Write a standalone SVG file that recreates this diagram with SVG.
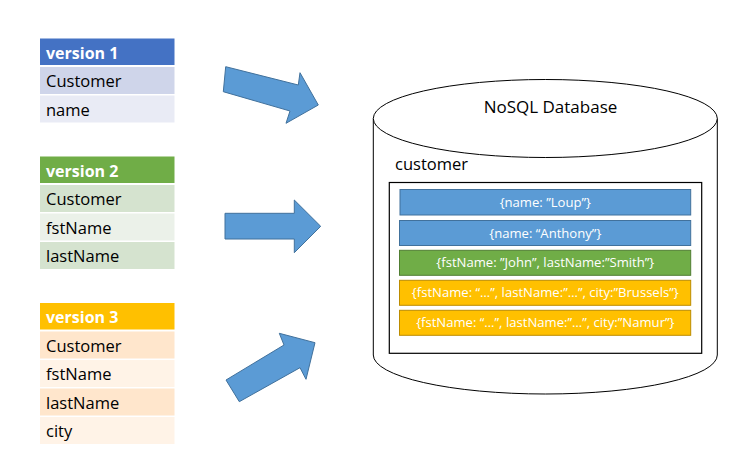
<svg xmlns="http://www.w3.org/2000/svg" width="744" height="466" viewBox="0 0 744 466">
<style>
text{font-family:"Open Sans","Noto Sans","Liberation Sans",sans-serif}
.hd{font-weight:bold;font-size:16px;fill:#fff}
.rw{font-size:16.5px;fill:#000}
.rec{font-size:13.1px;fill:#fff;text-anchor:middle}
.arrow{fill:#5B9BD5;stroke:#41719C;stroke-width:1}
.blue{fill:#5B9BD5;stroke:#41719C;stroke-width:1}
.green{fill:#70AD47;stroke:#507E32;stroke-width:1}
.gold{fill:#FFC000;stroke:#BC8C00;stroke-width:1}
</style>
<rect width="744" height="466" fill="#fff"/>
<g id="version1">
<rect x="40" y="38.5" width="134.5" height="26.5" fill="#4472C4"/>
<rect x="40" y="67" width="134.5" height="27" fill="#CFD5EA"/>
<rect x="40" y="95.5" width="134.5" height="27" fill="#E9EBF5"/>
<text class="hd" x="46" y="58.5">version 1</text>
<text class="rw" x="46" y="87">Customer</text>
<text class="rw" x="46" y="115.5">name</text>
</g>
<g id="version2">
<rect x="40" y="156.5" width="134.5" height="26.5" fill="#70AD47"/>
<rect x="40" y="185" width="134.5" height="27" fill="#D5E3CF"/>
<rect x="40" y="213.5" width="134.5" height="27" fill="#EBF1E9"/>
<rect x="40" y="242" width="134.5" height="27" fill="#D5E3CF"/>
<text class="hd" x="46" y="176.5">version 2</text>
<text class="rw" x="46" y="205">Customer</text>
<text class="rw" x="46" y="233.5">fstName</text>
<text class="rw" x="46" y="262">lastName</text>
</g>
<g id="version3">
<rect x="40" y="303" width="134.5" height="26.5" fill="#FFC000"/>
<rect x="40" y="331.5" width="134.5" height="27" fill="#FFE6CC"/>
<rect x="40" y="360" width="134.5" height="27" fill="#FFF3E7"/>
<rect x="40" y="388.5" width="134.5" height="27" fill="#FFE6CC"/>
<rect x="40" y="417" width="134.5" height="27" fill="#FFF3E7"/>
<text class="hd" x="46" y="323">version 3</text>
<text class="rw" x="46" y="351.5">Customer</text>
<text class="rw" x="46" y="380">fstName</text>
<text class="rw" x="46" y="408.5">lastName</text>
<text class="rw" x="46" y="437">city</text>
</g>
<g id="connectors">
<polygon class="arrow" points="225.7,66.7 298.3,85 300,72.7 318.3,105 286,123.3 290,111 223.3,91.7"/>
<polygon class="arrow" points="225,213.3 294.3,213.3 294.3,200 320.7,226.3 294.3,252.7 294.3,239 225,239"/>
<polygon class="arrow" points="226,380 284,345 279.3,333.3 315,342.7 306,379.3 300,367.7 239.3,401.7"/>
</g>
<g id="database">
<path d="M373.3,118.5 L373.3,355 A172,39 0 0 0 717.3,355 L717.3,118.5" fill="#fff" stroke="#000" stroke-width="1"/>
<ellipse cx="545.3" cy="118.5" rx="172" ry="39" fill="#fff" stroke="#000" stroke-width="1"/>
<text x="550.5" y="113" font-size="17" text-anchor="middle" fill="#000">NoSQL Database</text>
<text x="395" y="170" font-size="16.5" fill="#000">customer</text>
</g>
<g id="collection">
<rect x="389.3" y="182.5" width="312.4" height="170.8" fill="#fff" stroke="#000" stroke-width="1.2"/>
</g>
<g id="rec1"><rect class="blue" x="400" y="189.5" width="290.7" height="25.5"/><text class="rec" x="545.3" y="207">{name: ”Loup”}</text></g>
<g id="rec2"><rect class="blue" x="399.5" y="220.5" width="291.2" height="25"/><text class="rec" x="545.3" y="237.5">{name: “Anthony”}</text></g>
<g id="rec3"><rect class="green" x="399.5" y="250.3" width="291.2" height="25"/><text class="rec" x="545.3" y="267.3">{fstName: ”John”, lastName:”Smith”}</text></g>
<g id="rec4"><rect class="gold" x="399.5" y="280.3" width="291.2" height="25"/><text class="rec" x="545.3" y="297.3">{fstName: “…”, lastName:”…”, city:”Brussels”}</text></g>
<g id="rec5"><rect class="gold" x="399.5" y="310.3" width="291.2" height="25"/><text class="rec" x="545.3" y="327.3">{fstName: “…”, lastName:”…”, city:”Namur”}</text></g>
</svg>
